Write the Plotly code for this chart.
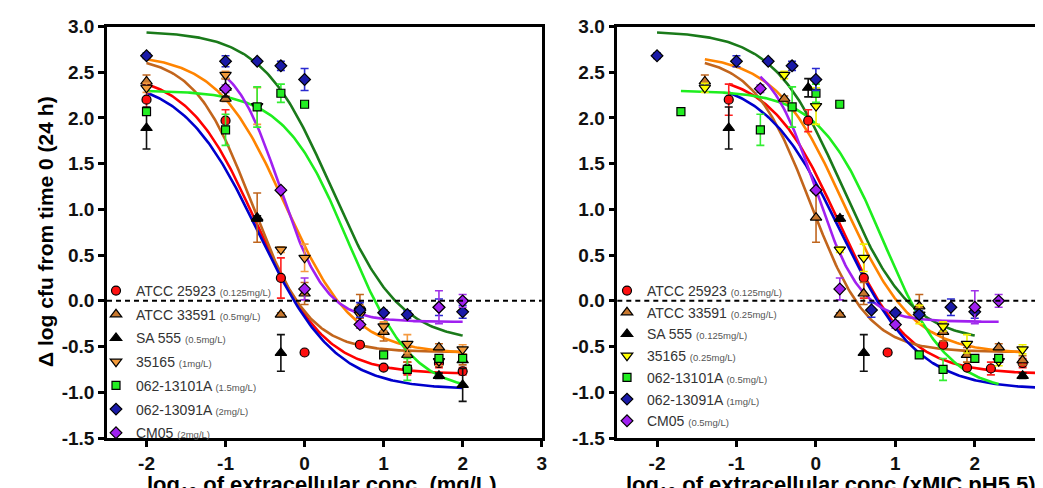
import numpy as np
import plotly.graph_objects as go

# ---------------- data ----------------
strain_names = ["ATCC 25923", "ATCC 33591", "SA 555", "35165", "062-13101A", "062-13091A", "CM05"]
mic_left_labels = ["(0.125mg/L)", "(0.5mg/L)", "(0.5mg/L)", "(1mg/L)", "(1.5mg/L)", "(2mg/L)", "(2mg/L)"]
mic_right_labels = ["(0.125mg/L)", "(0.25mg/L)", "(0.125mg/L)", "(0.25mg/L)", "(0.5mg/L)", "(1mg/L)", "(0.5mg/L)"]
mic_ph55 = [0.125, 0.25, 0.125, 0.25, 0.5, 1.0, 0.5]

# log10 extracellular concentration (mg/L), mean change and SD
x_25923 = [-2, -1, -0.3, 0, 0.7, 1, 1.3, 1.7, 2]
y_25923 = [2.20, 1.97, 0.25, -0.565, -0.48, -0.73, -0.74, -0.68, -0.77]
sd_25923 = [0.17, 0.12, 0.22, 0.02, 0.02, 0.02, 0.07, 0.05, 0.04]

x_33591 = [-2, -1, -0.6, -0.3, 0, 0.7, 1, 1.3, 1.7, 2]
y_33591 = [2.40, 2.21, 0.91, -0.15, 0.08, -0.06, -0.34, -0.59, -0.51, -0.65]
sd_33591 = [0.07, 0.03, 0.27, 0.02, 0.12, 0.13, 0.10, 0.08, 0.04, 0.05]

x_sa555 = [-2, -1, -0.6, -0.3, 1.7, 2]
y_sa555 = [1.89, 2.33, 0.90, -0.57, -0.82, -0.92]
sd_sa555 = [0.23, 0.10, 0.03, 0.20, 0.03, 0.18]

x_35165 = [-2, -1, -0.6, -0.3, 0, 0.7, 1, 1.3, 1.7, 2]
y_35165 = [2.33, 2.47, 2.13, 0.56, 0.47, -0.15, -0.28, -0.47, -0.66, -0.53]
sd_35165 = [0.05, 0.04, 0.20, 0.03, 0.15, 0.10, 0.05, 0.10, 0.05, 0.05]

x_13101a = [-2, -1, -0.6, -0.3, 0, 1, 1.3, 1.7, 2]
y_13101a = [2.07, 1.87, 2.12, 2.27, 2.15, -0.59, -0.75, -0.63, -0.63]
sd_13101a = [0.03, 0.17, 0.22, 0.10, 0.03, 0.03, 0.12, 0.04, 0.04]

x_13091a = [-2, -1, -0.6, -0.3, 0, 0.7, 1, 1.3, 1.7, 2]
y_13091a = [2.68, 2.62, 2.62, 2.57, 2.42, -0.10, -0.13, -0.15, -0.07, -0.12]
sd_13091a = [0.03, 0.06, 0.02, 0.05, 0.12, 0.08, 0.03, 0.04, 0.09, 0.07]

x_cm05 = [-1, -0.3, 0, 0.7, 1.7, 2]
y_cm05 = [2.32, 1.21, 0.13, -0.26, -0.07, 0.00]
sd_cm05 = [0.04, 0.02, 0.12, 0.04, 0.18, 0.07]

all_x = [x_25923, x_33591, x_sa555, x_35165, x_13101a, x_13091a, x_cm05]
all_y = [y_25923, y_33591, y_sa555, y_35165, y_13101a, y_13091a, y_cm05]
all_sd = [sd_25923, sd_33591, sd_sa555, sd_35165, sd_13101a, sd_13091a, sd_cm05]

# fitted sigmoid (Hill) parameters, in log10 mg/L
fit_top = [2.50, 2.68, 2.45, 2.70, 2.30, 2.95, 2.70]
fit_bottom = [-0.80, -0.56, -0.97, -0.58, -1.00, -0.45, -0.23]
fit_logec50 = [-0.61, -0.667, -0.58, -0.25, 0.55, 0.33, -0.31]
fit_hill = [1.0, 1.2, 0.9, 1.0, 1.07, 1.0, 1.5]

y_ticks = [-1.5, -1.0, -0.5, 0.0, 0.5, 1.0, 1.5, 2.0, 2.5, 3.0]
y_tick_text = ["-1.5", "-1.0", "-0.5", "0.0", "0.5", "1.0", "1.5", "2.0", "2.5", "3.0"]
x_ticks = [-2, -1, 0, 1, 2, 3]
x_tick_text = ["-2", "-1", "0", "1", "2", "3"]

# ---------------- styles ----------------
symbols = ["circle", "triangle-up", "triangle-up", "triangle-down", "square", "diamond", "diamond"]
fill_left = ["#ff1010", "#c8782e", "#000000", "#f29a3a", "#22ee22", "#1a1aa8", "#a020f0"]
fill_right = ["#ff1010", "#c8782e", "#000000", "#ffff00", "#22ee22", "#1a1aa8", "#a020f0"]
err_left = ["#ff2020", "#c0661e", "#111111", "#f59a40", "#33ee33", "#2a2ad0", "#a030e8"]
err_right = ["#ff2020", "#c0661e", "#111111", "#f0f000", "#33ee33", "#2a2ad0", "#a030e8"]
curve_col = ["#ff0000", "#c2651c", "#0000cc", "#ff8400", "#1eee1e", "#1a7a1a", "#a020f0"]
msize = [9, 10, 10, 10, 8, 9, 9]

FONT = "Liberation Sans, Arial, sans-serif"
W, H = 1043, 488
OFF = 8  # page body margin


def fx(px):
    return (px - OFF) / W


def fy(py):
    return 1 - (py - OFF) / H


fig = go.Figure()


def hill(x, i):
    return fit_bottom[i] + (fit_top[i] - fit_bottom[i]) / (1 + 10 ** ((x - fit_logec50[i]) * fit_hill[i]))


for panel in (0, 1):
    xa = "x" if panel == 0 else "x2"
    ya = "y" if panel == 0 else "y2"
    lg = "legend" if panel == 0 else "legend2"
    for i in range(len(strain_names)):
        shift = 0.0 if panel == 0 else -np.log10(mic_ph55[i])
        xs = np.array(all_x[i], dtype=float)
        xc = np.linspace(min(xs), max(xs), 200)
        fig.add_trace(go.Scatter(x=xc + shift, y=hill(xc, i), mode="lines",
                                 line=dict(color=curve_col[i], width=2.6),
                                 xaxis=xa, yaxis=ya, showlegend=False, hoverinfo="skip"))
    for i in range(len(strain_names)):
        shift = 0.0 if panel == 0 else -np.log10(mic_ph55[i])
        xs = np.array(all_x[i], dtype=float)
        lab = mic_left_labels[i] if panel == 0 else mic_right_labels[i]
        name = (f"{strain_names[i]} <span style='font-size:9.5px;fill:#555555'>{lab}</span>")
        fig.add_trace(go.Scatter(
            x=xs + shift, y=all_y[i], mode="markers", name=name,
            marker=dict(symbol=symbols[i], size=msize[i],
                        color=(fill_left if panel == 0 else fill_right)[i],
                        line=dict(color="black", width=1.2)),
            error_y=dict(type="data", array=all_sd[i], visible=True, width=4, thickness=1.6,
                         color=(err_left if panel == 0 else err_right)[i]),
            xaxis=xa, yaxis=ya, legend=lg, legendgroup=f"g{panel}{i}"))

# ---------------- layout ----------------
ydom = [fy(438.0), fy(26.5)]
axis_common = dict(showgrid=False, zeroline=False, showline=True, linecolor="black", linewidth=2.5,
                   ticks="outside", ticklen=6, tickwidth=2.5, tickcolor="black", automargin=False,
                   tickfont=dict(family=FONT, size=19, color="#111111", weight="bold"))

fig.update_layout(
    width=W, height=H, autosize=False,
    margin=dict(l=0, r=0, t=0, b=0, pad=0),
    paper_bgcolor="white", plot_bgcolor="white",
    xaxis=dict(domain=[fx(107), fx(541.7)], range=[-2.5, 3.0], tickvals=x_ticks, ticktext=x_tick_text,
               mirror=True, anchor="y", **axis_common),
    yaxis=dict(domain=ydom, range=[-1.5, 3.0], tickvals=y_ticks, ticktext=y_tick_text, mirror=True,
               anchor="x", **axis_common),
    xaxis2=dict(domain=[fx(617.3), fx(1051)], range=[-2.5, 2.96], tickvals=x_ticks, ticktext=x_tick_text,
                mirror=True, anchor="y2", **axis_common),
    yaxis2=dict(domain=ydom, range=[-1.5, 3.0], tickvals=y_ticks, ticktext=y_tick_text, mirror=False,
                anchor="x2", **axis_common),
    legend=dict(x=fx(96), y=fy(275), xanchor="left", yanchor="top", bgcolor="rgba(0,0,0,0)",
                font=dict(family=FONT, size=14, color="#333333"), tracegroupgap=2.5,
                itemsizing="trace", borderwidth=0),
    legend2=dict(x=fx(607), y=fy(275), xanchor="left", yanchor="top", bgcolor="rgba(0,0,0,0)",
                 font=dict(family=FONT, size=14, color="#333333"), tracegroupgap=0.5,
                 itemsizing="trace", borderwidth=0),
    showlegend=True,
)

for xr, yr in (("x domain", "y"), ("x2 domain", "y2")):
    fig.add_shape(type="line", xref=xr, yref=yr, x0=0, x1=1, y0=0, y1=0,
                  line=dict(color="black", width=2, dash="5px,4px"))

fig.add_annotation(text="Δ log cfu from time 0 (24 h)", textangle=-90, xref="paper", yref="paper",
                   x=fx(45), y=fy(232), xanchor="center", yanchor="middle", showarrow=False,
                   font=dict(family=FONT, size=21, color="black", weight="bold"))
fig.add_annotation(text="log<sub>10</sub> of extracellular conc. (mg/L)", xref="paper", yref="paper",
                   x=fx(322), xanchor="center", y=fy(470), yanchor="top", showarrow=False,
                   font=dict(family=FONT, size=22, color="black", weight="bold"))
fig.add_annotation(text="log<sub>10</sub> of extracellular conc (xMIC pH5.5)", xref="paper", yref="paper",
                   x=fx(624), xanchor="left", y=fy(470), yanchor="top", showarrow=False,
                   font=dict(family=FONT, size=22, color="black", weight="bold"))

fig.write_html("out.html")
